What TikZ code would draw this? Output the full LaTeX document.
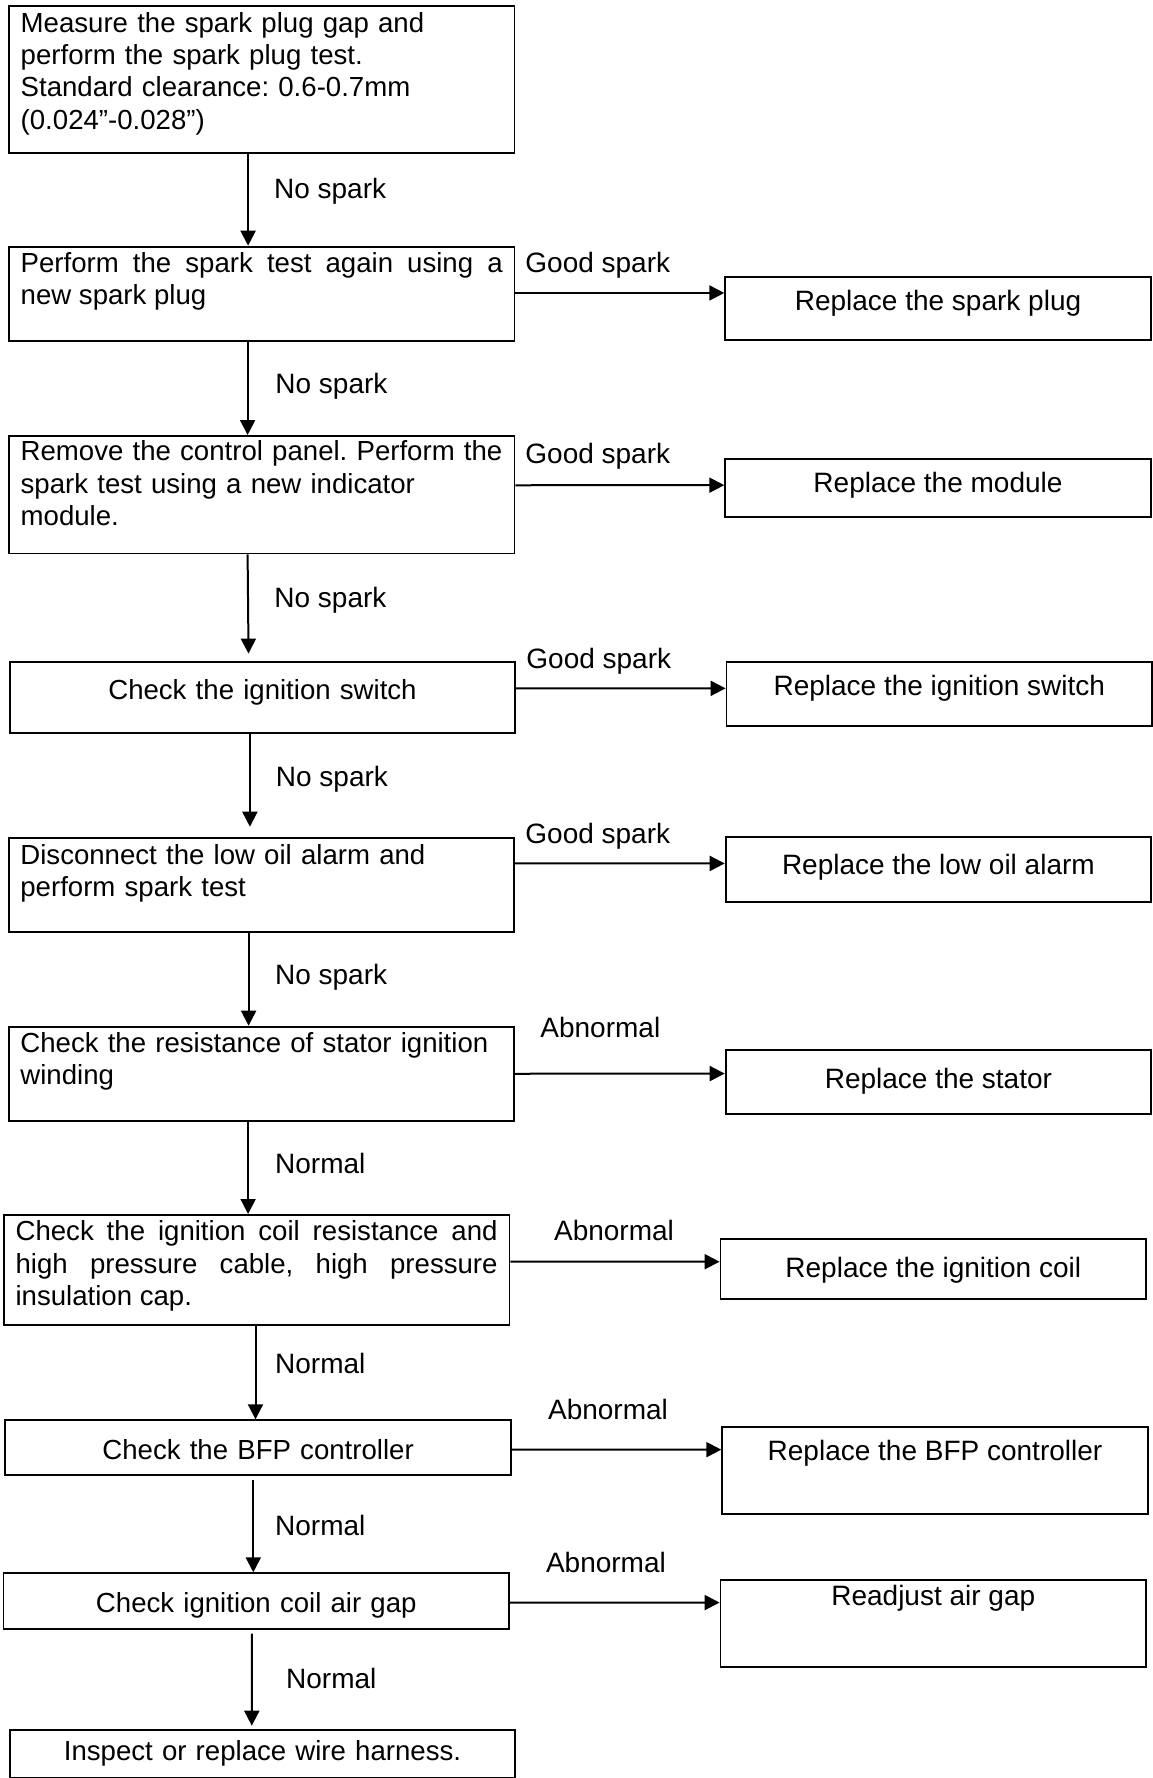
\documentclass[tikz,border=0pt]{standalone}
\usepackage{fontspec}
\setmainfont{Liberation Sans}
\usetikzlibrary{arrows.meta,calc}
\tolerance=10000
\hyphenpenalty=10000
\frenchspacing

\begin{document}
\begin{tikzpicture}[x=0.5pt,y=-0.5pt,>={Triangle[length=7.5pt,width=7.5pt]},font=\fontsize{14pt}{16.1pt}\selectfont]
\tikzstyle{chk}=[draw,line width=0.9pt,anchor=north west,text width=241pt,inner xsep=5.9pt,inner ysep=0pt,font=\fontsize{13.8pt}{16.1pt}\selectfont]
\tikzstyle{fix}=[draw,line width=0.9pt,anchor=north west,minimum width=212.8pt,inner xsep=0pt,inner ysep=0pt,align=center]
\tikzstyle{flow}=[->,line width=1pt]
\tikzstyle{lbl}=[anchor=base west,inner sep=0pt]
\useasboundingbox (0,0) rectangle (1152,1778);

% checks (left column)
\node[chk,align=left,text height=13.25pt,text depth=60.4pt] (s1) at (8,5) {Measure the spark plug gap and\\ perform the spark plug test.\\ Standard clearance: 0.6-0.7mm\\ (0.024”-0.028”)};
\node[chk,align=justify,text height=13pt,text depth=34.15pt] (s2) at (8,245.7) {Perform the spark test again using a\linebreak new spark plug};
\node[chk,align=left,text height=12.5pt,text depth=46.25pt] (s3) at (8,435) {\mbox{Remove the control panel. Perform the}\\ spark test using a new indicator\\ module.};
\node[chk,align=center,text height=18.65pt,text depth=16.7pt] (s4) at (8.8,661) {Check the ignition switch};
\node[chk,align=left,text height=13.3pt,text depth=33.7pt] (s5) at (7.7,836.7) {Disconnect the low oil alarm and\\ perform spark test};
\node[chk,align=left,text height=13pt,text depth=34.15pt] (s6) at (7.7,1025.7) {Check the resistance of stator ignition\\ winding};
\node[chk,align=justify,text height=13pt,text depth=42.15pt] (s7) at (2.9,1214) {Check the ignition coil resistance and\linebreak high pressure cable, high pressure\linebreak insulation cap.};
\node[chk,align=center,text height=19.5pt,text depth=8pt] (s8) at (4.4,1419.3) {Check the BFP controller};
\node[chk,align=center,text height=19.7pt,text depth=8pt] (s9) at (2.6,1572.3) {Check ignition coil air gap};
\node[chk,align=center,text height=15.35pt,text depth=8.65pt] (s10) at (8.8,1729.3) {Inspect or replace wire harness.};

% fixes (right column)
\node[fix,text height=17pt,text depth=14.65pt] (r1) at (724.3,276) {Replace the spark plug};
\node[fix,text height=16.85pt,text depth=12pt] (r2) at (724.3,458) {Replace the module};
\node[fix,text height=17.15pt,text depth=15pt] (r3) at (725.6,660.7) {Replace the ignition switch};
\node[fix,text height=19pt,text depth=13.35pt] (r4) at (724.7,836) {Replace the low oil alarm};
\node[fix,text height=19.15pt,text depth=12.7pt] (r5) at (724.7,1049) {Replace the stator};
\node[fix,text height=19.5pt,text depth=10.5pt] (r6) at (719.6,1237.7) {Replace the ignition coil};
\node[fix,text height=17pt,text depth=26.35pt] (r7) at (721.3,1426) {Replace the BFP controller};
\node[fix,text height=12.85pt,text depth=30.5pt] (r8) at (719.6,1579.3) {Readjust air gap};

% down the column
\draw[flow] ([xshift=-6.8pt]s1.south) -- ([xshift=-6.8pt]s2.north);
\draw[flow] ([xshift=-7.05pt]s2.south) -- ([xshift=-7.05pt]s3.north);
\draw[flow,shorten >=3.7pt] ([xshift=-7.05pt]s3.south) -- ([xshift=-6.95pt]s4.north);
\draw[flow,shorten >=5pt] ([xshift=-6.3pt]s4.south) -- ([xshift=-5.75pt]s5.north);
\draw[flow] ([xshift=-6.4pt]s5.south) -- ([xshift=-6.4pt]s6.north);
\draw[flow] ([xshift=-6.65pt]s6.south) -- ([xshift=-4.25pt]s7.north);
\draw[flow] ([xshift=-0.55pt]s7.south) -- ([xshift=-1.3pt]s8.north);
\draw[flow,shorten <=2pt] ([xshift=-2.4pt]s8.south) -- ([xshift=-1.5pt]s9.north);
\draw[flow,shorten <=2pt,shorten >=1.8pt] ([xshift=-2.25pt]s9.south) -- ([xshift=-5.35pt]s10.north);

% across to the fixes
\draw[flow] ([yshift=0.4pt]s2.east) -- ([yshift=7.8pt]r1.west);
\draw[flow] ([yshift=4.7pt]s3.east) -- ([yshift=1.3pt]r2.west);
\draw[flow] ([yshift=4.4pt]s4.east) -- ([yshift=2.7pt]r3.west);
\draw[flow] ([yshift=10.6pt]s5.east) -- ([yshift=2.9pt]r4.west);
\draw[flow] (s6.east) -- ([yshift=4.1pt]r5.west);
\draw[flow] ([yshift=4.2pt]s7.east) -- ([yshift=3.45pt]r6.west);
\draw[flow] ([yshift=-0.95pt]s8.east) -- ([yshift=10.3pt]r7.west);
\draw[flow] ([yshift=-0.85pt]s9.east) -- ([yshift=10.5pt]r8.west);

% branch labels
\node[lbl] (n1) at (273.7,198.3) {No spark};
\node[lbl] (n2) at (275,393.3) {No spark};
\node[lbl] (n3) at (274,607) {No spark};
\node[lbl] (n4) at (275.5,786.7) {No spark};
\node[lbl] (n5) at (274.7,984) {No spark};
\node[lbl] (m1) at (274.8,1173.3) {Normal};
\node[lbl] (m2) at (274.8,1373.3) {Normal};
\node[lbl] (m3) at (274.8,1535) {Normal};
\node[lbl] (m4) at (285.8,1688.3) {Normal};
\node[lbl] (g1) at (525,272.7) {Good spark};
\node[lbl] (g2) at (525,463.3) {Good spark};
\node[lbl] (g3) at (526,668) {Good spark};
\node[lbl] (g4) at (525,843) {Good spark};
\node[lbl] (a1) at (540,1037.3) {Abnormal};
\node[lbl] (a2) at (553.7,1240.7) {Abnormal};
\node[lbl] (a3) at (547.7,1419.3) {Abnormal};
\node[lbl] (a4) at (545.6,1572.7) {Abnormal};
\end{tikzpicture}
\end{document}
